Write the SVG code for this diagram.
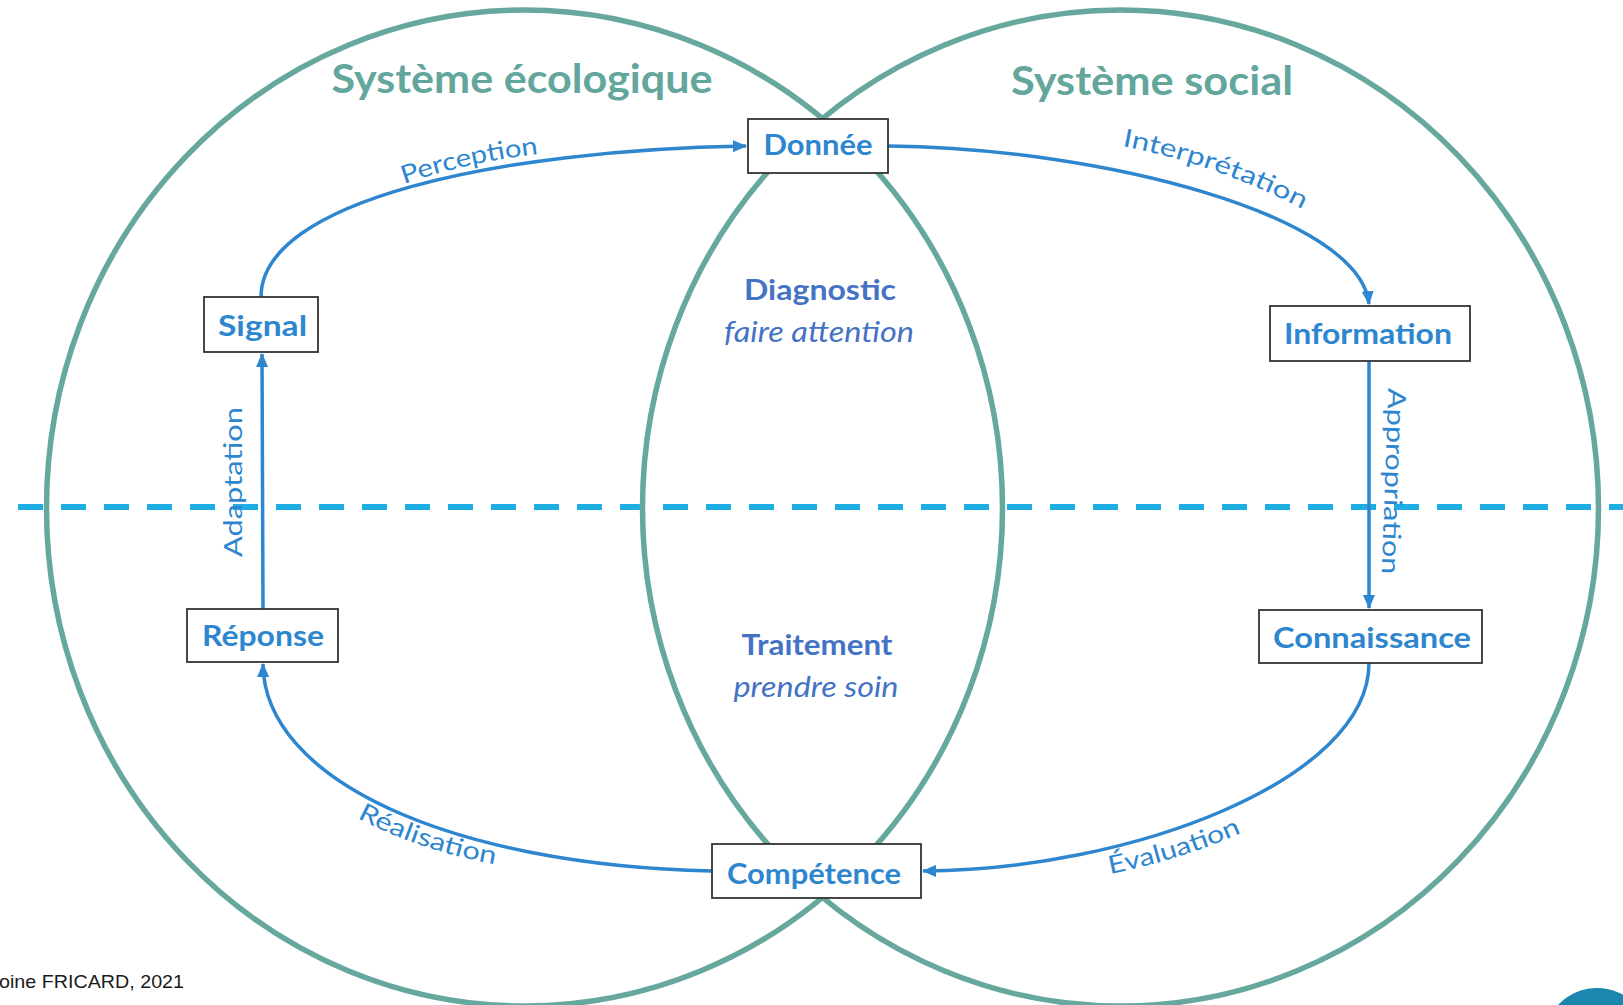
<svg xmlns="http://www.w3.org/2000/svg" width="1623" height="1005" viewBox="0 0 1623 1005">
  <style>
    .circ { fill: none; stroke: #67A89E; stroke-width: 5.5; }
    .title { font-family: "Lato", "Liberation Sans", sans-serif; font-weight: bold; font-size: 40px; fill: #63A69C; text-anchor: middle; }
    .box { fill: #ffffff; stroke: #333333; stroke-width: 1.8; }
    .ntext { font-family: "Lato", "Liberation Sans", sans-serif; font-weight: bold; font-size: 29px; fill: #2E86CF; text-anchor: middle; }
    .mid { font-family: "Lato", "Liberation Sans", sans-serif; font-size: 29px; fill: #4472C4; text-anchor: middle; }
    .midb { font-weight: bold; }
    .midi { font-style: italic; }
    .conn { fill: none; stroke: #2E86CF; stroke-width: 3.5; }
    .lbl { font-family: "Lato", "Liberation Sans", sans-serif; font-size: 25px; fill: #2E86CF; }
    .dash { stroke: #1FAEE3; stroke-width: 6; stroke-dasharray: 25 18; fill: none; }
  </style>
  <defs>
    <marker id="arrow" markerUnits="userSpaceOnUse" markerWidth="14" markerHeight="12" refX="13" refY="6" orient="auto">
      <path d="M0,0 L14,6 L0,12 z" fill="#2E86CF"/>
    </marker>
    <path id="pPerception" d="M404,184 Q470,161 548,153"/>
    <path id="pInterpretation" d="M1122,146 Q1220,165 1310,213"/>
    <path id="pRealisation" d="M357,818 Q424,853 506,866"/>
    <path id="pEvaluation" d="M1110,874 Q1185,859 1250,829"/>
  </defs>
  <rect x="0" y="0" width="1623" height="1005" fill="#ffffff"/>

  <g id="background">
    <line class="dash" x1="18" y1="507" x2="1623" y2="507"/>
    <g id="systeme-ecologique">
      <ellipse class="circ" cx="524.5" cy="508" rx="478" ry="498"/>
      <text class="title" x="522" y="93" textLength="381" lengthAdjust="spacingAndGlyphs">Système écologique</text>
    </g>
    <g id="systeme-social">
      <ellipse class="circ" cx="1120.5" cy="508" rx="478" ry="498"/>
      <text class="title" x="1152" y="95" textLength="282" lengthAdjust="spacingAndGlyphs">Système social</text>
    </g>
    <circle cx="1597" cy="1041" r="53" fill="#1B86AE"/>
  </g>

  <g id="connectors">
    <g id="c-perception">
      <path class="conn" d="M261,297 C261,200 500,150 746,146" marker-end="url(#arrow)"/>
      <text class="lbl"><textPath href="#pPerception" textLength="138" lengthAdjust="spacingAndGlyphs">Perception</textPath></text>
    </g>
    <g id="c-interpretation">
      <path class="conn" d="M888,146 C1100,148 1360,215 1369,304" marker-end="url(#arrow)"/>
      <text class="lbl"><textPath href="#pInterpretation" textLength="192" lengthAdjust="spacingAndGlyphs">Interprétation</textPath></text>
    </g>
    <g id="c-appropriation">
      <path class="conn" d="M1369,361 L1369,608" marker-end="url(#arrow)"/>
      <text class="lbl" text-anchor="middle" transform="translate(1385,481) rotate(92)" textLength="186" lengthAdjust="spacingAndGlyphs">Appropriation</text>
    </g>
    <g id="c-evaluation">
      <path class="conn" d="M1369,663 C1369,780 1130,870 923,871" marker-end="url(#arrow)"/>
      <text class="lbl"><textPath href="#pEvaluation" textLength="138" lengthAdjust="spacingAndGlyphs">Évaluation</textPath></text>
    </g>
    <g id="c-realisation">
      <path class="conn" d="M712,871 C450,865 264,780 263,664" marker-end="url(#arrow)"/>
      <text class="lbl"><textPath href="#pRealisation" textLength="146" lengthAdjust="spacingAndGlyphs">Réalisation</textPath></text>
    </g>
    <g id="c-adaptation">
      <path class="conn" d="M263,609 L262,354" marker-end="url(#arrow)"/>
      <text class="lbl" text-anchor="middle" transform="translate(242,482) rotate(-90)" textLength="150" lengthAdjust="spacingAndGlyphs">Adaptation</text>
    </g>
  </g>

  <g id="donnee">
    <rect class="box" x="748" y="119" width="140" height="54"/>
    <text class="ntext" x="818" y="155" textLength="109" lengthAdjust="spacingAndGlyphs">Donnée</text>
  </g>
  <g id="signal">
    <rect class="box" x="204" y="297" width="114" height="55"/>
    <text class="ntext" x="262.5" y="336" textLength="89" lengthAdjust="spacingAndGlyphs">Signal</text>
  </g>
  <g id="information">
    <rect class="box" x="1270" y="306" width="200" height="55"/>
    <text class="ntext" x="1368" y="344" textLength="168" lengthAdjust="spacingAndGlyphs">Information</text>
  </g>
  <g id="connaissance">
    <rect class="box" x="1259" y="610" width="223" height="53"/>
    <text class="ntext" x="1372" y="648" textLength="198" lengthAdjust="spacingAndGlyphs">Connaissance</text>
  </g>
  <g id="reponse">
    <rect class="box" x="187" y="609" width="151" height="53"/>
    <text class="ntext" x="263" y="646" textLength="122" lengthAdjust="spacingAndGlyphs">Réponse</text>
  </g>
  <g id="competence">
    <rect class="box" x="712" y="844" width="209" height="54"/>
    <text class="ntext" x="814" y="884" textLength="174" lengthAdjust="spacingAndGlyphs">Compétence</text>
  </g>

  <g id="diagnostic">
    <text class="mid midb" x="820" y="300" textLength="152" lengthAdjust="spacingAndGlyphs">Diagnostic</text>
    <text class="mid midi" x="819" y="342" textLength="190" lengthAdjust="spacingAndGlyphs">faire attention</text>
  </g>
  <g id="traitement">
    <text class="mid midb" x="817" y="655" textLength="151" lengthAdjust="spacingAndGlyphs">Traitement</text>
    <text class="mid midi" x="816" y="697" textLength="165" lengthAdjust="spacingAndGlyphs">prendre soin</text>
  </g>

  <text x="-1" y="988" font-family="Liberation Sans, sans-serif" font-size="19" fill="#1a1a1a" textLength="185" lengthAdjust="spacingAndGlyphs">oine FRICARD, 2021</text>
</svg>
